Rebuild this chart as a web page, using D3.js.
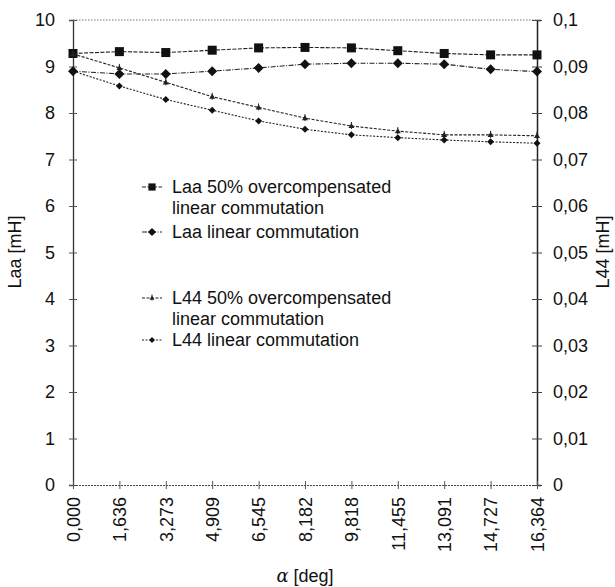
<!DOCTYPE html>
<html>
<head>
<meta charset="utf-8">
<script src="https://cdn.jsdelivr.net/npm/d3@7"></script>
<style>
  body { margin: 0; background: #fff; }
  svg text { font-family: "Liberation Sans", Arial, sans-serif; fill: #111; }
</style>
</head>
<body>
<div id="chart"></div>
<script>
// x categories (alpha in degrees, comma decimals as printed)
const alphaLabels = ["0,000", "1,636", "3,273", "4,909", "6,545", "8,182",
  "9,818", "11,455", "13,091", "14,727", "16,364"];

// series
const laaOver = [9.28, 9.32, 9.30, 9.35, 9.40, 9.41, 9.40, 9.34, 9.28, 9.25, 9.25];
const laaLinear = [8.90, 8.84, 8.84, 8.90, 8.97, 9.05, 9.07, 9.07, 9.05, 8.94, 8.89];
const l44Over = [0.0927, 0.0897, 0.0866, 0.0835, 0.0812, 0.0789, 0.0772, 0.0761, 0.0753, 0.0753, 0.0751];
const l44Linear = [0.0890, 0.0858, 0.0829, 0.0806, 0.0783, 0.0765, 0.0753, 0.0747, 0.0742, 0.0738, 0.0735];

const leftTicks = [0, 1, 2, 3, 4, 5, 6, 7, 8, 9, 10];
const rightTicks = [0, 0.01, 0.02, 0.03, 0.04, 0.05, 0.06, 0.07, 0.08, 0.09, 0.1];
const rightTickLabels = ["0", "0,01", "0,02", "0,03", "0,04", "0,05", "0,06", "0,07", "0,08", "0,09", "0,1"];

const legendLabels = [
  ["Laa 50% overcompensated", "linear commutation"],
  ["Laa linear commutation"],
  ["L44 50% overcompensated", "linear commutation"],
  ["L44 linear commutation"]
];

const width = 615, height = 587;
const plotLeft = 73, plotRight = 537, plotTop = 20, plotBottom = 485;
const fontSize = 18;

const svg = d3.select("#chart").append("svg")
  .attr("width", width)
  .attr("height", height);

const x = d3.scalePoint().domain(alphaLabels).range([plotLeft, plotRight]).padding(0);
const yLeft = d3.scaleLinear().domain([0, 10]).range([plotBottom, plotTop]);
const yRight = d3.scaleLinear().domain([0, 0.1]).range([plotBottom, plotTop]);

// top border, dotted
svg.append("line")
  .attr("x1", plotLeft).attr("x2", plotRight)
  .attr("y1", plotTop).attr("y2", plotTop)
  .attr("stroke", "#777").attr("stroke-width", 1)
  .attr("stroke-dasharray", "1.5,1.5");

// left axis
const leftAxis = svg.append("g")
  .attr("transform", `translate(${plotLeft},0)`)
  .call(d3.axisLeft(yLeft).tickValues(leftTicks).tickSize(4).tickPadding(14).tickFormat(d3.format("d")));
leftAxis.select(".domain").attr("stroke", "#333").attr("stroke-width", 1.3);
leftAxis.selectAll(".tick line").attr("x2", 4).attr("x1", -4).attr("stroke", "#555");
leftAxis.selectAll("text").attr("font-size", fontSize).style("font-family", "Liberation Sans, Arial, sans-serif");

// right axis
const rightAxis = svg.append("g")
  .attr("transform", `translate(${plotRight},0)`)
  .call(d3.axisRight(yRight).tickValues(rightTicks).tickSize(4).tickPadding(12)
    .tickFormat((d, i) => rightTickLabels[i]));
rightAxis.select(".domain").attr("stroke", "#222").attr("stroke-width", 1.5);
rightAxis.selectAll(".tick line").attr("x1", -5).attr("x2", 5).attr("stroke", "#444");
rightAxis.selectAll("text").attr("font-size", fontSize).style("font-family", "Liberation Sans, Arial, sans-serif");

// bottom axis
const bottomAxis = svg.append("g")
  .attr("transform", `translate(0,${plotBottom})`)
  .call(d3.axisBottom(x).tickSize(4).tickPadding(0));
bottomAxis.select(".domain").attr("stroke", "#444").attr("stroke-width", 1)
  .attr("stroke-dasharray", "2,1");
bottomAxis.selectAll(".tick line").attr("y1", -4).attr("y2", 4).attr("stroke", "#555");
bottomAxis.selectAll("text")
  .attr("font-size", fontSize)
  .style("font-family", "Liberation Sans, Arial, sans-serif")
  .attr("transform", "rotate(-90)")
  .attr("text-anchor", "end")
  .attr("x", -12)
  .attr("y", 0)
  .attr("dy", "0.35em");

// axis titles
svg.append("text")
  .attr("transform", `translate(21,252) rotate(-90)`)
  .attr("text-anchor", "middle")
  .attr("font-size", fontSize)
  .text("Laa [mH]");

svg.append("text")
  .attr("transform", `translate(603,252) rotate(-90)`)
  .attr("text-anchor", "middle")
  .attr("dy", "0.35em")
  .attr("font-size", fontSize)
  .text("L44 [mH]");

const xTitle = svg.append("text")
  .attr("x", 305).attr("y", 582)
  .attr("text-anchor", "middle")
  .attr("font-size", fontSize);
xTitle.append("tspan").style("font-family", "DejaVu Serif, serif").style("font-style", "italic").text("α");
xTitle.append("tspan").text(" [deg]");

// series
const series = [
  { values: laaOver, y: yLeft, marker: "square", size: 9, dash: "4,1.5" },
  { values: laaLinear, y: yLeft, marker: "diamond", size: 9, dash: "5,1.5,1,1.5" },
  { values: l44Over, y: yRight, marker: "triangle", size: 6, dash: "3,1.5" },
  { values: l44Linear, y: yRight, marker: "diamond", size: 6, dash: "2,1.5" }
];

function drawMarker(g, type, cx, cy, s) {
  if (type === "square") {
    g.append("rect")
      .attr("x", cx - s / 2).attr("y", cy - s / 2)
      .attr("width", s).attr("height", s)
      .attr("fill", "#111");
  } else if (type === "diamond") {
    const h = s / 2 + 0.5;
    g.append("path")
      .attr("d", `M${cx},${cy - h}L${cx + h},${cy}L${cx},${cy + h}L${cx - h},${cy}Z`)
      .attr("fill", "#111");
  } else {
    const h = s / 2;
    g.append("path")
      .attr("d", `M${cx},${cy - h}L${cx + h},${cy + h * 0.7}L${cx - h},${cy + h * 0.7}Z`)
      .attr("fill", "#222");
    g.append("line")
      .attr("x1", cx).attr("x2", cx).attr("y1", cy - h - 1).attr("y2", cy + h)
      .attr("stroke", "#222").attr("stroke-width", 1);
  }
}

const plot = svg.append("g");
series.forEach(s => {
  const line = d3.line().x((d, i) => x(alphaLabels[i])).y(d => s.y(d));
  plot.append("path")
    .datum(s.values)
    .attr("d", line)
    .attr("fill", "none")
    .attr("stroke", "#222")
    .attr("stroke-width", 1.1)
    .attr("stroke-dasharray", s.dash);
  s.values.forEach((v, i) => drawMarker(plot, s.marker, x(alphaLabels[i]), s.y(v), s.size));
});

// legend
const legendRows = [187, 232, 298, 340];
const legendLineGap = 21;
const legend = svg.append("g");
legendLabels.forEach((lines, k) => {
  const cy = legendRows[k];
  const s = series[k];
  legend.append("line")
    .attr("x1", 142).attr("x2", 162)
    .attr("y1", cy).attr("y2", cy)
    .attr("stroke", "#222").attr("stroke-width", 1.1)
    .attr("stroke-dasharray", s.dash);
  drawMarker(legend, s.marker, 152, cy, s.size * 0.8);
  lines.forEach((t, j) => {
    legend.append("text")
      .attr("x", 172)
      .attr("y", cy + j * legendLineGap)
      .attr("dy", "0.35em")
      .attr("font-size", fontSize)
      .text(t);
  });
});
</script>
</body>
</html>
